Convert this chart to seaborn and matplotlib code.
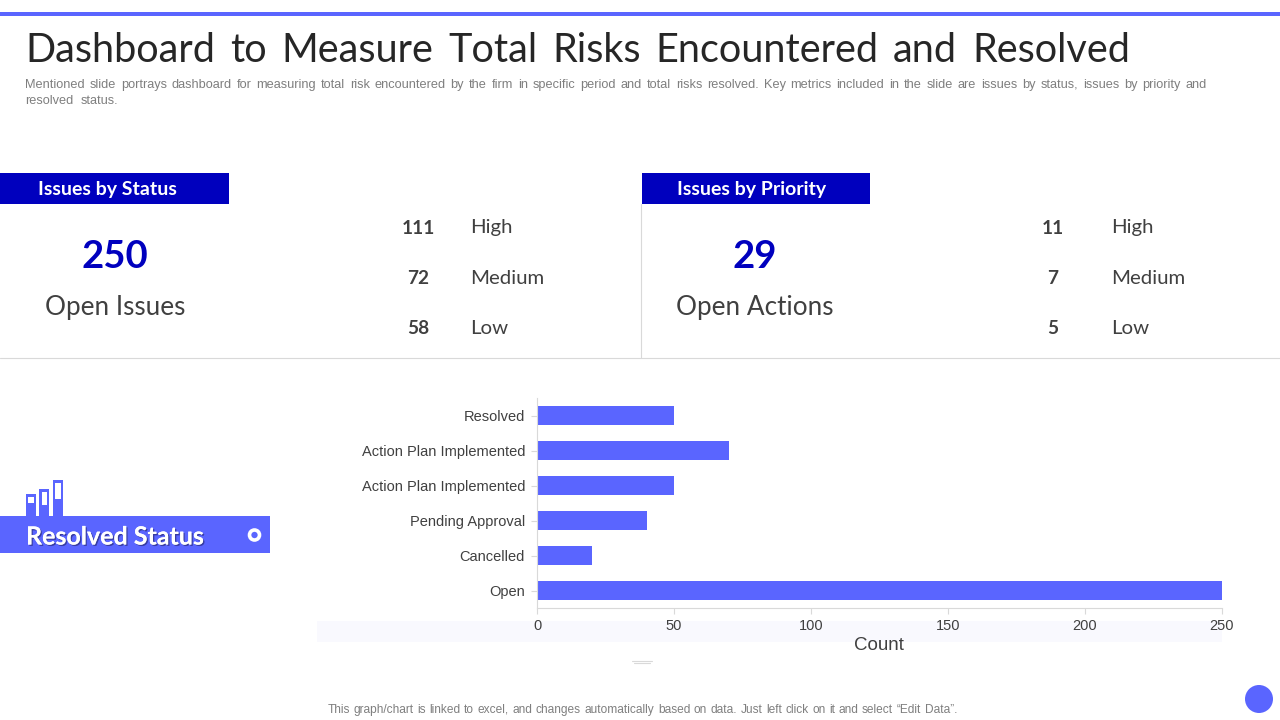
import matplotlib

matplotlib.use("Agg")

import matplotlib.patheffects as pe
import matplotlib.pyplot as plt
import pandas as pd
import seaborn as sns
from matplotlib.patches import Circle, Rectangle

COLOR_BAR = "#5A65FF"
COLOR_NAVY = "#0000BE"
COLOR_TEXT = "#404040"
HEAD_FONT = "Lato"

# Data
status_labels = ["Resolved", "Action Plan Implemented", "Action Plan Implemented",
                 "Pending Approval", "Cancelled", "Open"]
status_counts = [50, 70, 50, 40, 20, 250]
x_ticks = [0, 50, 100, 150, 200, 250]

priority_names = ["High", "Medium", "Low"]
issues_counts = [111, 72, 58]
actions_counts = [11, 7, 5]
open_issues = 250
open_actions = 29

TITLE = "Dashboard to Measure Total Risks Encountered and Resolved"
SUBTITLE_1 = ("Mentioned slide portrays dashboard for measuring total risk encountered by the firm in specific "
              "period and total risks resolved. Key metrics included in the slide are issues by status, issues by priority and")
SUBTITLE_2 = "resolved status."
FOOTNOTE = ("This graph/chart is linked to excel, and changes automatically based on data. "
            "Just left click on it and select \u201cEdit Data\u201d.")

sns.set_theme(style="white")
plt.rcParams["font.family"] = ["Liberation Sans", "DejaVu Sans"]

fig = plt.figure(figsize=(12.8, 7.2), dpi=100, facecolor="white")

# Overlay in pixel coordinates for the slide furniture
bg = fig.add_axes([0, 0, 1, 1])
bg.set_xlim(0, 1280)
bg.set_ylim(720, 0)
bg.axis("off")


def justified_line(text, x0, x1, y, **kwargs):
    # one word at a time so the line fills x0..x1 like the slide's justified text
    renderer = fig.canvas.get_renderer()
    words = [bg.text(0, y, w, va="baseline", ha="left", **kwargs) for w in text.split(" ")]
    widths = [w.get_window_extent(renderer).width for w in words]
    gap = (x1 - x0 - sum(widths)) / (len(words) - 1)
    x = x0
    for word, width in zip(words, widths):
        word.set_x(x)
        x += width + gap


bg.add_patch(Rectangle((0, 12), 1280, 4, color=COLOR_BAR, lw=0))
justified_line(TITLE, 25, 1130, 62, fontsize=28.5, family=HEAD_FONT, color="#262626")
justified_line(SUBTITLE_1, 25, 1207, 88, fontsize=9.2, color="#7F7F7F")
justified_line(SUBTITLE_2, 25, 118, 104, fontsize=9.2, color="#7F7F7F")

# Section dividers
bg.plot([0, 1280], [358, 358], color="#D9D9D9", lw=0.8)
bg.plot([641, 641], [204, 358], color="#D9D9D9", lw=0.8)


def draw_panel(x_band, x_head, head, x_big, big_value, big_label, x_count, x_name, counts):
    bg.add_patch(Rectangle((x_band, 173), 229 if x_band == 0 else 228, 31, color=COLOR_NAVY, lw=0))
    bg.text(x_head, 189.5, head, fontsize=14, family=HEAD_FONT, weight="bold", color="white",
            ha="center", va="center")
    bg.text(x_big, 257.5, str(big_value), fontsize=27.5, family=HEAD_FONT, weight="bold", color=COLOR_NAVY,
            ha="center", va="center")
    bg.text(x_big, 307, big_label, fontsize=18.8, family=HEAD_FONT, color=COLOR_TEXT,
            ha="center", va="center")
    for y, count, name in zip([228, 278, 329], counts, priority_names):
        bg.text(x_count, y, str(count), fontsize=13.7, family=HEAD_FONT, weight="bold", color=COLOR_TEXT,
                ha="center", va="center")
        bg.text(x_name, y, name, fontsize=14.7, family=HEAD_FONT, color=COLOR_TEXT, ha="left", va="center")


draw_panel(0, 107, "Issues by Status", 115, open_issues, "Open Issues", 418, 470, issues_counts)
draw_panel(642, 752, "Issues by Priority", 755, open_actions, "Open Actions", 1053, 1111, actions_counts)

# Resolved Status banner with its small icon
bg.add_patch(Rectangle((0, 516), 270, 37, color=COLOR_BAR, lw=0))
for left, top, right, in_left, in_right, in_top, in_bottom in [(26, 494, 36, 28, 34, 497, 503),
                                                               (39, 489, 49, 42, 47, 492, 505),
                                                               (53, 480, 63, 55, 61, 483, 499)]:
    bg.add_patch(Rectangle((left, top), right - left, 516 - top, color=COLOR_BAR, lw=0))
    bg.add_patch(Rectangle((in_left, in_top), in_right - in_left, in_bottom - in_top, color="white", lw=0))
banner = bg.text(26, 537, "Resolved Status", fontsize=18, family=HEAD_FONT, weight="bold", color="white",
                 ha="left", va="center")
banner.set_path_effects([pe.withSimplePatchShadow(offset=(1, -1), shadow_rgbFace="#222266", alpha=0.6), pe.Normal()])
bg.add_patch(Circle((254.5, 535), 5, facecolor=COLOR_BAR, edgecolor="white", lw=2.6))

# Pale strip behind the axis labels, small mark and corner dot
bg.add_patch(Rectangle((317, 621), 905, 21, color="#F9F9FE", lw=0))
bg.plot([632, 652], [661, 661], color="#D9D9D9", lw=0.8)
bg.plot([634, 650], [663, 663], color="#D9D9D9", lw=0.8)
bg.add_patch(Circle((1259, 699), 14, color=COLOR_BAR, lw=0))
justified_line(FOOTNOTE, 328, 957, 713, fontsize=8.6, color="#7F7F7F")

# Bar chart: 0-250 spans x 537-1221, six rows span y 398-608
ax = fig.add_axes([537 / 1280, 1 - 608 / 720, (1221.5 - 537) / 1280, 210 / 720])
ax.patch.set_alpha(0)
rows = [str(i) for i in range(len(status_labels))]
df = pd.DataFrame({"row": rows, "count": status_counts})
sns.barplot(data=df, x="count", y="row", order=rows, orient="h", color=COLOR_BAR, saturation=1, width=0.55,
            linewidth=0, ax=ax)

ax.set_xlim(0, 250)
ax.set_xticks(x_ticks)
ax.set_yticks(range(len(rows)))
ax.set_yticklabels(status_labels)
ax.set_ylabel("")
ax.set_xlabel("Count", fontsize=13.5, color=COLOR_TEXT)
ax.xaxis.set_label_coords((879 - 537) / (1221 - 537), -0.139)
ax.tick_params(axis="both", length=4, width=0.8, color="#D9D9D9", labelsize=10.5, labelcolor=COLOR_TEXT, bottom=True, left=True)
ax.tick_params(axis="y", pad=4.6)
ax.tick_params(axis="x", pad=4)
for side in ("top", "right"):
    ax.spines[side].set_visible(False)
for side in ("left", "bottom"):
    ax.spines[side].set_color("#D9D9D9")
    ax.spines[side].set_linewidth(0.8)

fig.savefig("out.png", dpi=100)
